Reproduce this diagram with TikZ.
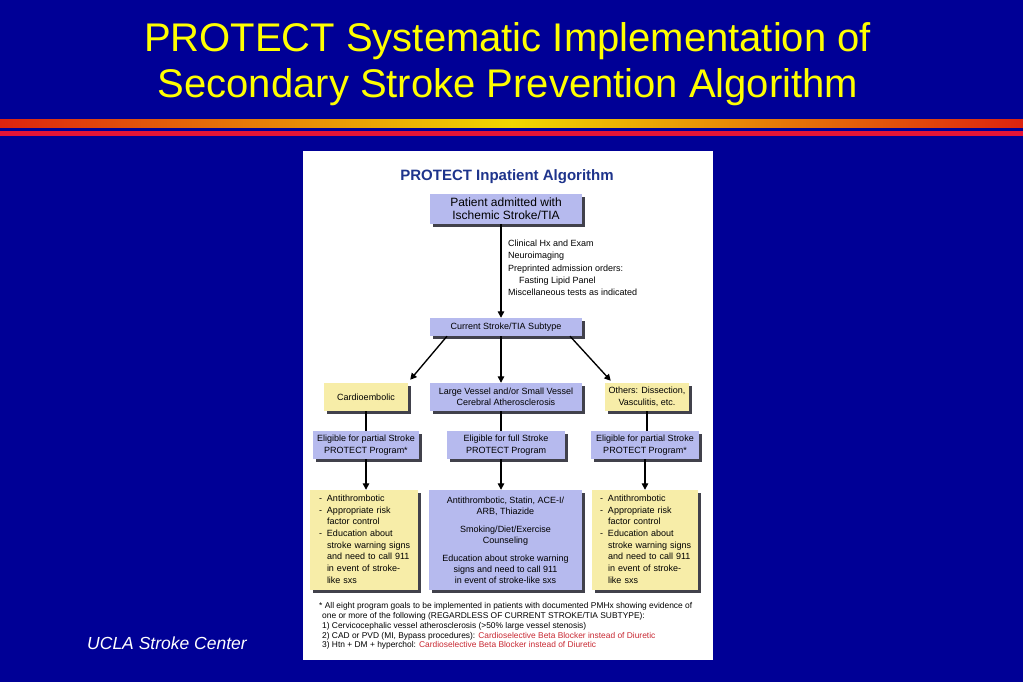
\documentclass[tikz,border=0pt]{standalone}
\usepackage{fontspec}
\setmainfont{Liberation Sans}
\usetikzlibrary{arrows.meta,shadows}
\definecolor{bgblue}{RGB}{0,0,150}
\definecolor{lav}{RGB}{182,186,238}
\definecolor{yel}{RGB}{247,237,168}
\definecolor{navy}{RGB}{30,52,140}
\definecolor{rtext}{RGB}{200,40,50}
\definecolor{stripered}{RGB}{220,35,15}
\definecolor{stripeyel}{RGB}{240,215,0}
\definecolor{stripecrim}{RGB}{228,20,55}
\definecolor{shadowgray}{RGB}{65,65,75}
\definecolor{titleyel}{RGB}{255,255,0}
\tikzset{
  box/.style={draw=none, inner sep=0pt, align=center,
    font=\fontsize{9}{11.5}\selectfont,
    drop shadow={shadow xshift=2.5pt, shadow yshift=-2.5pt, fill=shadowgray, opacity=1}},
  lavbox/.style={box, fill=lav},
  yelbox/.style={box, fill=yel},
  conn/.style={line width=1.35pt, black},
  arr/.style={conn, -{Triangle[length=6.5pt,width=6.5pt]}},
  smalltext/.style={font=\fontsize{9}{12.4}\selectfont, align=left, inner sep=0pt},
  titletext/.style={anchor=base, text=titleyel, font=\fontsize{40}{47}\selectfont, inner sep=0pt},
}
\begin{document}
\begin{tikzpicture}[x=1pt,y=-1pt]
\useasboundingbox (0,0) rectangle (1023,682);
\fill[bgblue] (0,0) rectangle (1023,682);
% slide title
\node[titletext] (t1) at (507.5,51.7) {PROTECT Systematic Implementation of};
\node[titletext] (t2) at (508,98) {Secondary Stroke Prevention Algorithm};
% stripes
\shade[left color=stripered, right color=stripered, middle color=stripeyel] (0,120) rectangle (1023,128);
\fill[stripecrim] (0,131) rectangle (1023,136);
% panel
\fill[white] (303,151) rectangle (713,660);
\node[anchor=base, inner sep=0pt, text=navy, font=\bfseries\fontsize{15}{18}\selectfont] (ptitle) at (507,180) {PROTECT Inpatient Algorithm};
\coordinate (spine) at (501,0);
% boxes
\node[lavbox, minimum width=152pt, minimum height=30pt, font=\fontsize{12}{13}\selectfont] (patient) at (506,209) {Patient admitted with\\Ischemic Stroke/TIA};
\node[smalltext, anchor=north west] (tests) at (508,239.5) {Clinical Hx and Exam\\Neuroimaging\\Preprinted admission orders:\\\hspace*{11pt}Fasting Lipid Panel\\Miscellaneous tests as indicated};
\node[lavbox, minimum width=152pt, minimum height=18pt] (subtype) at (506,327) {Current Stroke/TIA Subtype};
\node[yelbox, minimum width=84pt, minimum height=28pt] (cardio) at (366,397) {Cardioembolic};
\node[lavbox, minimum width=152pt, minimum height=28pt] (large) at (506,397) {Large Vessel and/or Small Vessel\\Cerebral Atherosclerosis};
\node[yelbox, minimum width=84pt, minimum height=28pt] (others) at (647,397) {Others: Dissection,\\Vasculitis, etc.};
\node[lavbox, minimum width=106pt, minimum height=28pt] (eligL) at (366,445) {Eligible for partial Stroke\\PROTECT Program*};
\node[lavbox, minimum width=118pt, minimum height=28pt] (eligM) at (506,445) {Eligible for full Stroke\\PROTECT Program};
\node[lavbox, minimum width=108pt, minimum height=28pt] (eligR) at (645,445) {Eligible for partial Stroke\\PROTECT Program*};
\node[yelbox, minimum width=108pt, minimum height=100pt, text width=90pt, align=left, font=\fontsize{9}{11.7}\selectfont] (thirdL) at (364,540) {%
\begin{tabular}{@{}l@{\hspace{5pt}}l@{}}
-&Antithrombotic\\
-&Appropriate risk\\
&factor control\\
-&Education about\\
&stroke warning signs\\
&and need to call 911\\
&in event of stroke-\\
&like sxs
\end{tabular}};
\node[lavbox, minimum width=153pt, minimum height=100pt, font=\fontsize{9}{11}\selectfont] (thirdM) at (505.5,540) {Antithrombotic, Statin, ACE-I/\\ARB, Thiazide\\[7pt]Smoking/Diet/Exercise\\Counseling\\[7pt]Education about stroke warning\\signs and need to call 911\\in event of stroke-like sxs};
\node[yelbox, minimum width=106pt, minimum height=100pt, text width=90pt, align=left, font=\fontsize{9}{11.7}\selectfont] (thirdR) at (645,540) {%
\begin{tabular}{@{}l@{\hspace{5pt}}l@{}}
-&Antithrombotic\\
-&Appropriate risk\\
&factor control\\
-&Education about\\
&stroke warning signs\\
&and need to call 911\\
&in event of stroke-\\
&like sxs
\end{tabular}};
% connectors
\draw[arr] (patient.south -| spine) -- (subtype.north -| spine);
\draw[arr] ([xshift=-59pt]subtype.south) -- ([xshift=2pt,yshift=3pt]cardio.north east);
\draw[arr] (subtype.south -| spine) -- (large.north -| spine);
\draw[arr] ([xshift=64pt]subtype.south) -- ([xshift=6pt,yshift=2pt]others.north west);
\draw[conn] (cardio.south) -- (eligL.north);
\draw[conn] (large.south -| spine) -- (eligM.north -| spine);
\draw[conn] (others.south) -- (others.south |- eligR.north);
\draw[arr] (eligL.south) -- (eligL.south |- thirdL.north);
\draw[arr] (eligM.south -| spine) -- (thirdM.north -| spine);
\draw[arr] (eligR.south) -- (eligR.south |- thirdR.north);
% footnote
\node[anchor=north west, inner sep=0pt, align=left, font=\fontsize{8.4}{9.8}\selectfont] (foot) at (319,602.5) {* All eight program goals to be implemented in patients with documented PMHx showing evidence of\\
\hspace*{3pt}one or more of the following (REGARDLESS OF CURRENT STROKE/TIA SUBTYPE):\\
\hspace*{3pt}1) Cervicocephalic vessel atherosclerosis (>50\% large vessel stenosis)\\
\hspace*{3pt}2) CAD or PVD (MI, Bypass procedures): \textcolor{rtext}{Cardioselective Beta Blocker instead of Diuretic}\\
\hspace*{3pt}3) Htn + DM + hyperchol: \textcolor{rtext}{Cardioselective Beta Blocker instead of Diuretic}};
% footer
\node[anchor=base, inner sep=0pt, text=white, font=\itshape\fontsize{17.5}{20}\selectfont] (ucla) at (167,649) {UCLA Stroke Center};
\end{tikzpicture}
\end{document}
